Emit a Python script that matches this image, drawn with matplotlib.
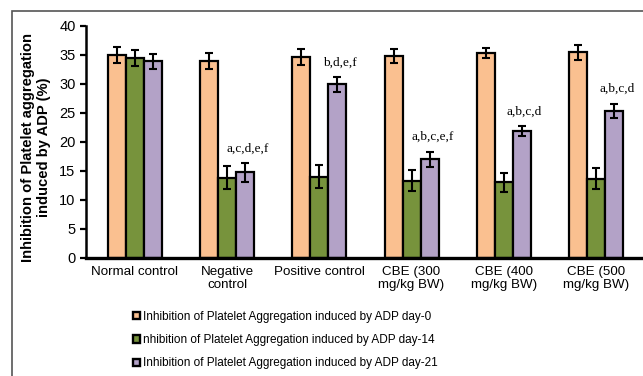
import numpy as np
import matplotlib
matplotlib.use('Agg')
from matplotlib import pyplot as plt
from matplotlib.patches import Rectangle

groups = ['Normal control', 'Negative\ncontrol', 'Positive control',
          'CBE (300\nmg/kg BW)', 'CBE (400\nmg/kg BW)', 'CBE (500\nmg/kg BW)']
day0 = [34.9, 33.9, 34.6, 34.8, 35.3, 35.4]
day14 = [34.4, 13.8, 14.0, 13.3, 13.0, 13.6]
day21 = [33.9, 14.7, 29.9, 17.0, 21.8, 25.3]
err0 = [1.35, 1.4, 1.35, 1.25, 0.85, 1.25]
err14 = [1.4, 2.0, 2.05, 1.85, 1.6, 1.8]
err21 = [1.3, 1.6, 1.3, 1.3, 0.85, 1.25]
letters = ['', 'a,c,d,e,f', 'b,d,e,f', 'a,b,c,e,f', 'a,b,c,d', 'a,b,c,d']
labels = ['Inhibition of Platelet Aggregation induced by ADP day-0',
          'nhibition of Platelet Aggregation induced by ADP day-14',
          'Inhibition of Platelet Aggregation induced by ADP day-21']
colors = ['#FAC090', '#77933C', '#B3A2C7']

plt.rcParams['font.family'] = ['Liberation Sans', 'DejaVu Sans']

fig = plt.figure(figsize=(6.43, 3.76), dpi=100)
# outer frame of the figure
fig.patches.append(Rectangle((11.5/643, -0.1), 1.2, (376 - 11)/376 + 0.1,
                             transform=fig.transFigure, fill=False,
                             edgecolor='#555555', linewidth=1.2))

ax = fig.add_axes([86/643, 118.3/376, 1 - 86/643, (257.7 - 25.7)/376])
x = np.arange(len(groups))
w = 0.195
series = [(day0, err0), (day14, err14), (day21, err21)]
handles = []
for i, (vals, errs) in enumerate(series):
    b = ax.bar(x + (i - 1)*w, vals, w, color=colors[i], edgecolor='black',
               linewidth=1.6, label=labels[i], zorder=2)
    ax.errorbar(x + (i - 1)*w, vals, yerr=errs, fmt='none', ecolor='black',
                elinewidth=1.5, capsize=2.7, capthick=1.5, zorder=3)
    handles.append(b)

for xi, v, e, t in zip(x, day21, err21, letters):
    if t:
        ax.text(xi + w + 0.03, v + e + 2.5, t, ha='center', va='center',
                fontsize=9.5, family='Liberation Serif')

ax.set_xlim(-0.53, 5.51)
ax.set_ylim(0, 40)
ax.set_yticks(range(0, 41, 5))
ax.set_xticks(x)
ax.set_xticklabels(groups, fontsize=9.6, linespacing=1.1)
ax.tick_params(axis='x', length=0, pad=6)
ax.tick_params(axis='y', labelsize=10.5, width=1.6, length=4.5, pad=3)
for s in ['top', 'right']:
    ax.spines[s].set_visible(False)
ax.spines['left'].set_linewidth(1.8)
ax.spines['bottom'].set_linewidth(2.4)

fig.text(36/643, 0.608, 'Inhibition of Platelet aggregation\ninduced by ADP (%)',
         rotation=90, ha='center', va='center', fontsize=10.6,
         fontweight='bold', multialignment='center', linespacing=1.25)

leg = fig.legend(handles=handles, labels=labels, loc='upper left',
                 bbox_to_anchor=(133/643, 1 - 311/376), frameon=False,
                 fontsize=8.5, handlelength=0.62, handleheight=0.55,
                 handletextpad=0.2, labelspacing=0.95, borderpad=0,
                 borderaxespad=0)
for h in leg.legend_handles:
    h.set_linewidth(1.7)

fig.savefig('out.png', dpi=100)
